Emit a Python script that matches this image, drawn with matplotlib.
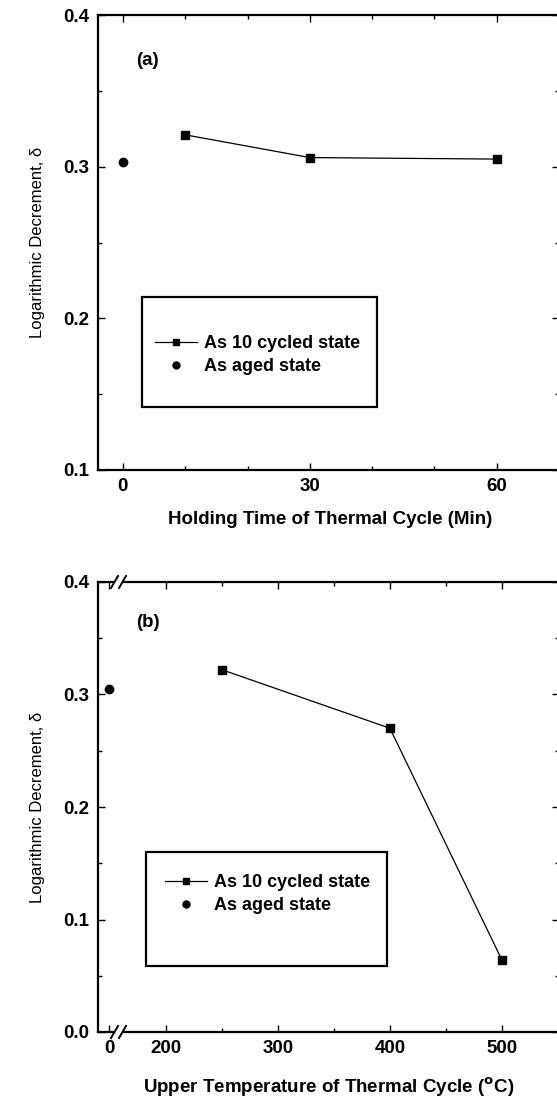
import matplotlib
matplotlib.use('Agg')
import matplotlib.pyplot as plt
from matplotlib.lines import Line2D
from matplotlib.patches import Rectangle
from matplotlib.ticker import MultipleLocator

plt.rcParams['font.family'] = ['Liberation Sans', 'DejaVu Sans']
plt.rcParams['font.weight'] = 'bold'
plt.rcParams['mathtext.default'] = 'bf'

# ---------------- data ----------------
# (a) holding time of the thermal cycle
hold_time = [10, 30, 60]          # min
hold_delta = [0.321, 0.306, 0.305]
aged_x_a = [0]
aged_delta_a = [0.303]

# (b) upper temperature of the thermal cycle
upper_temp = [250, 400, 500]      # deg C
temp_delta = [0.322, 0.270, 0.064]
aged_x_b = [0]
aged_delta_b = [0.305]

legend_labels = ['As 10 cycled state', 'As aged state']
ylab = 'Logarithmic Decrement, δ'

# ---------------- layout helpers (pixels -> figure fraction) ----------------
W, H = 557, 1100
def fbox(x0, y0, x1, y1):
    return [x0 / W, 1 - y1 / H, (x1 - x0) / W, (y1 - y0) / H]

FS = 13.5
LW_SPINE = 1.6

def style(ax, left=True, right=True):
    ax.tick_params(which='both', direction='in', top=True, right=right, left=left,
                   labelsize=FS, pad=6)
    ax.tick_params(which='major', length=5, width=1)
    ax.tick_params(which='minor', length=3, width=1)
    for s in ax.spines.values():
        s.set_linewidth(LW_SPINE)

fig = plt.figure(figsize=(W / 100, H / 100), dpi=100)

line_kw = dict(color='k', lw=0.9, marker='s', ms=5.5)
dot_kw = dict(ls='none', color='k', marker='o', ms=6)

# ---------------- panel (a) ----------------
ax1 = fig.add_axes(fbox(98, 15, 559, 470))
ax1.plot(hold_time, hold_delta, **line_kw)
ax1.plot(aged_x_a, aged_delta_a, **dot_kw)
ax1.set_xlim(-4, 70)
ax1.set_ylim(0.1, 0.4)
ax1.xaxis.set_major_locator(MultipleLocator(30))
ax1.xaxis.set_minor_locator(MultipleLocator(10))
ax1.yaxis.set_major_locator(MultipleLocator(0.1))
ax1.yaxis.set_minor_locator(MultipleLocator(0.05))
ax1.yaxis.set_major_formatter(lambda v, p: f'{v:.1f}')
style(ax1)
ax1.text(3.9, 0.370, '(a)', fontsize=FS, ha='center', va='center')
fig.text(330 / W, 1 - 520 / H, 'Holding Time of Thermal Cycle (Min)',
         fontsize=FS, ha='center', va='center')
fig.text(38 / W, 1 - 242 / H, ylab, fontsize=12, fontweight='normal',
         rotation=90, ha='center', va='center')

# ---------------- panel (b), broken x axis ----------------
ax2l = fig.add_axes(fbox(98, 582, 114, 1032))
ax2 = fig.add_axes(fbox(124, 582, 559, 1032))
ax2l.plot(aged_x_b, aged_delta_b, clip_on=False, **dot_kw)
ax2.plot(upper_temp, temp_delta, **line_kw)
for a in (ax2l, ax2):
    a.set_ylim(0.0, 0.4)
    a.yaxis.set_major_locator(MultipleLocator(0.1))
    a.yaxis.set_minor_locator(MultipleLocator(0.05))
    a.yaxis.set_major_formatter(lambda v, p: f'{v:.1f}')
ax2l.set_xlim(-11, 5)
ax2l.set_xticks([0])
ax2l.spines['right'].set_visible(False)
style(ax2l, right=False)
ax2.set_xlim(162.5, 551)
ax2.xaxis.set_major_locator(MultipleLocator(100))
ax2.xaxis.set_minor_locator(MultipleLocator(50))
ax2.spines['left'].set_visible(False)
style(ax2, left=False)
ax2.tick_params(labelleft=False)
ax2.text(184, 0.3636, '(b)', fontsize=FS, ha='center', va='center')
fig.text(329 / W, 1 - 1087 / H, 'Upper Temperature of Thermal Cycle ($^{\\rm o}$C)',
         fontsize=FS, ha='center', va='center')
fig.text(38 / W, 1 - 807 / H, ylab, fontsize=12, fontweight='normal',
         rotation=90, ha='center', va='center')

# break marks "//" on top and bottom spines
for yb in (582, 1032):
    for xb in (111, 119):
        fig.add_artist(Line2D([xb / W, (xb + 7) / W], [1 - (yb + 6) / H, 1 - (yb - 6) / H],
                              transform=fig.transFigure, color='k', lw=1.4))

# ---------------- legends with drawn boxes ----------------
handles = [Line2D([], [], color='k', lw=0.9, marker='s', ms=4.5),
           Line2D([], [], ls='none', color='k', marker='o', ms=5)]
for (bx0, by0, bx1, by1), (lx, ly) in [((142, 297, 377, 407), (155, 335)),
                                      ((146, 852, 387, 966), (165, 874))]:
    fig.add_artist(Rectangle((bx0 / W, 1 - by1 / H), (bx1 - bx0) / W, (by1 - by0) / H,
                             transform=fig.transFigure, fill=False, ec='k', lw=LW_SPINE))
    fig.legend(handles, legend_labels, loc='upper left',
               bbox_to_anchor=(lx / W, 1 - ly / H), bbox_transform=fig.transFigure,
               frameon=False, fontsize=13, handlelength=2.3, handletextpad=0.4,
               labelspacing=0.35, borderpad=0, borderaxespad=0, numpoints=1)

fig.savefig('out.png', dpi=100)
